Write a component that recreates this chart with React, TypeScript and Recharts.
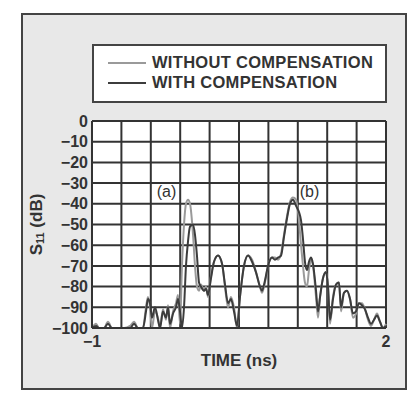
import React from 'react';
import {
  CartesianGrid,
  Label,
  Line,
  LineChart,
  ReferenceDot,
  XAxis,
  YAxis,
} from 'recharts';

// time axis, ns
const time = [
  -1, -0.959, -0.929, -0.878, -0.837, -0.796, -0.735, -0.673, -0.612, -0.571,
  -0.531, -0.48, -0.449, -0.429, -0.408, -0.388, -0.357, -0.327, -0.306, -0.276,
  -0.245, -0.224, -0.204, -0.173, -0.143, -0.122, -0.102, -0.082, -0.061, -0.041,
  -0.02, 0, 0.031, 0.051, 0.071, 0.092, 0.112, 0.143, 0.163, 0.184,
  0.214, 0.245, 0.286, 0.327, 0.357, 0.388, 0.418, 0.449, 0.48, 0.51,
  0.551, 0.592, 0.633, 0.673, 0.714, 0.735, 0.765, 0.796, 0.837, 0.867,
  0.898, 0.929, 0.959, 0.99, 1.02, 1.051, 1.082, 1.112, 1.133, 1.153,
  1.173, 1.194, 1.214, 1.235, 1.255, 1.286, 1.306, 1.327, 1.357, 1.388,
  1.408, 1.429, 1.459, 1.49, 1.52, 1.541, 1.571, 1.602, 1.633, 1.663,
  1.694, 1.724, 1.755, 1.786, 1.816, 1.847, 1.878, 1.908, 1.939, 1.969, 2,
];

// S11 (dB) without compensation
const withoutComp = [
  -100, -98, -100, -100, -97, -100, -100, -100, -99, -97,
  -100, -100, -90, -85, -90, -100, -92, -95, -100, -91,
  -96, -89, -100, -92, -88, -84, -98, -70, -50, -40,
  -38, -40, -55, -70, -80, -82, -79, -82, -80, -85,
  -75, -68, -65, -69, -80, -90, -85, -90, -100, -85,
  -70, -65, -67, -73, -80, -83, -78, -70, -66, -66,
  -67, -64, -55, -46, -39, -37, -38, -48, -60, -70,
  -78, -80, -72, -67, -70, -85, -95, -85, -76, -73,
  -80, -98, -85, -79, -78, -92, -83, -82, -86, -95,
  -93, -88, -88, -91, -96, -99, -96, -93, -97, -100, -98,
];

// S11 (dB) with compensation
const withComp = [
  -100, -99, -100, -100, -98, -100, -100, -100, -100, -98,
  -100, -100, -92, -86, -88, -95, -90, -96, -100, -92,
  -95, -90, -98, -93, -90, -86, -92, -100, -90, -70,
  -58, -51, -50, -55, -65, -78, -80, -82, -81, -84,
  -76, -68, -65, -69, -79, -88, -86, -92, -99, -85,
  -70, -65, -68, -73, -80, -82, -77, -70, -66, -67,
  -66, -65, -56, -47, -40, -38, -41, -44, -48, -57,
  -68, -72, -68, -66, -69, -82, -92, -85, -76, -73,
  -80, -96, -86, -79, -78, -90, -83, -82, -86, -93,
  -92, -88, -89, -91, -95, -98, -96, -94, -97, -100, -99,
];

const xTicks = [-1, -0.7, -0.4, -0.1, 0.2, 0.5, 0.8, 1.1, 1.4, 1.7, 2];
const xTickLabels: Record<number, string> = { [-1]: '\u22121', 2: '2' };
const yTicks = [-100, -90, -80, -70, -60, -50, -40, -30, -20, -10, 0];

const data = time.map((t, i) => ({ t, without: withoutComp[i], with: withComp[i] }));

const FONT = '"Liberation Sans", Arial, sans-serif';
const INK = '#333';
const LIGHT = '#9a9a9a';
const DARK = '#3c3c3c';

const YTitle = ({ viewBox }: any) => {
  const x = 36;
  const y = viewBox.y + viewBox.height / 2;
  return (
    <text
      x={x}
      y={y}
      transform={`rotate(-90 ${x} ${y})`}
      textAnchor="middle"
      dominantBaseline="central"
      fontFamily={FONT}
      fontWeight="bold"
      fontSize={17}
      fill={INK}
    >
      S<tspan fontSize={11} dy={4}>11</tspan>
      <tspan dy={-4}> (dB)</tspan>
    </text>
  );
};

const App = () => (
  <div style={{ position: 'fixed', left: 0, top: 0, width: 411, height: 394, background: '#fff' }}>
    <div
      style={{
        position: 'absolute',
        left: 21,
        top: 13,
        width: 382,
        height: 373,
        background: '#e8e8e8',
        border: '2px solid #444',
      }}
    />
    <div
      style={{
        position: 'absolute',
        left: 92,
        top: 44,
        width: 291,
        height: 55,
        background: '#fff',
        border: '2px solid #444',
        fontFamily: FONT,
        fontWeight: 'bold',
        fontSize: 16.5,
        letterSpacing: 0.3,
        color: INK,
      }}
    >
      {[
        { name: 'WITHOUT COMPENSATION', color: LIGHT },
        { name: 'WITH COMPENSATION', color: DARK },
      ].map((s, i) => (
        <div
          key={s.name}
          style={{ position: 'absolute', left: 14, top: 7 + i * 20, display: 'flex', alignItems: 'center', whiteSpace: 'nowrap' }}
        >
          <span style={{ display: 'inline-block', width: 38, height: 2, background: s.color, marginRight: 6 }} />
          {s.name}
        </div>
      ))}
    </div>
    <div style={{ position: 'absolute', left: 0, top: 0 }}>
      <LineChart width={411} height={394} data={data} margin={{ top: 121, right: 25, bottom: 30, left: 0 }}>
        <CartesianGrid stroke={INK} strokeWidth={2} fill="#fff" fillOpacity={1} />
        <XAxis
          dataKey="t"
          type="number"
          domain={[-1, 2]}
          ticks={xTicks}
          interval={0}
          height={36}
          tickLine={false}
          axisLine={{ stroke: INK, strokeWidth: 2 }}
          tickSize={0}
          tickMargin={8}
          tickFormatter={(v: number) => xTickLabels[v] ?? ''}
          tick={{ fontFamily: FONT, fontWeight: 'bold', fontSize: 16, fill: INK }}
        >
          <Label
            value="TIME (ns)"
            position="insideBottom"
            offset={-2}
            style={{ fontFamily: FONT, fontWeight: 'bold', fontSize: 17, fill: INK }}
          />
        </XAxis>
        <YAxis
          type="number"
          domain={[-100, 0]}
          ticks={yTicks}
          interval={0}
          width={92}
          tickLine={false}
          axisLine={{ stroke: INK, strokeWidth: 2 }}
          tickSize={0}
          tickMargin={4}
          tickFormatter={(v: number) => (v === 0 ? '0' : `\u2212${Math.abs(v)}`)}
          tick={{ fontFamily: FONT, fontWeight: 'bold', fontSize: 16, fill: INK }}
        >
          <Label content={<YTitle />} />
        </YAxis>
        <Line
          dataKey="without"
          type="monotone"
          stroke={LIGHT}
          strokeWidth={2}
          dot={false}
          isAnimationActive={false}
        />
        <Line
          dataKey="with"
          type="monotone"
          stroke={DARK}
          strokeWidth={2}
          dot={false}
          isAnimationActive={false}
        />
        <ReferenceDot
          x={-0.24}
          y={-34}
          r={0}
          label={{ value: '(a)', position: 'center', fontFamily: FONT, fontSize: 16, fill: INK }}
        />
        <ReferenceDot
          x={1.22}
          y={-34}
          r={0}
          label={{ value: '(b)', position: 'center', fontFamily: FONT, fontSize: 16, fill: INK }}
        />
      </LineChart>
    </div>
  </div>
);

export default App;
